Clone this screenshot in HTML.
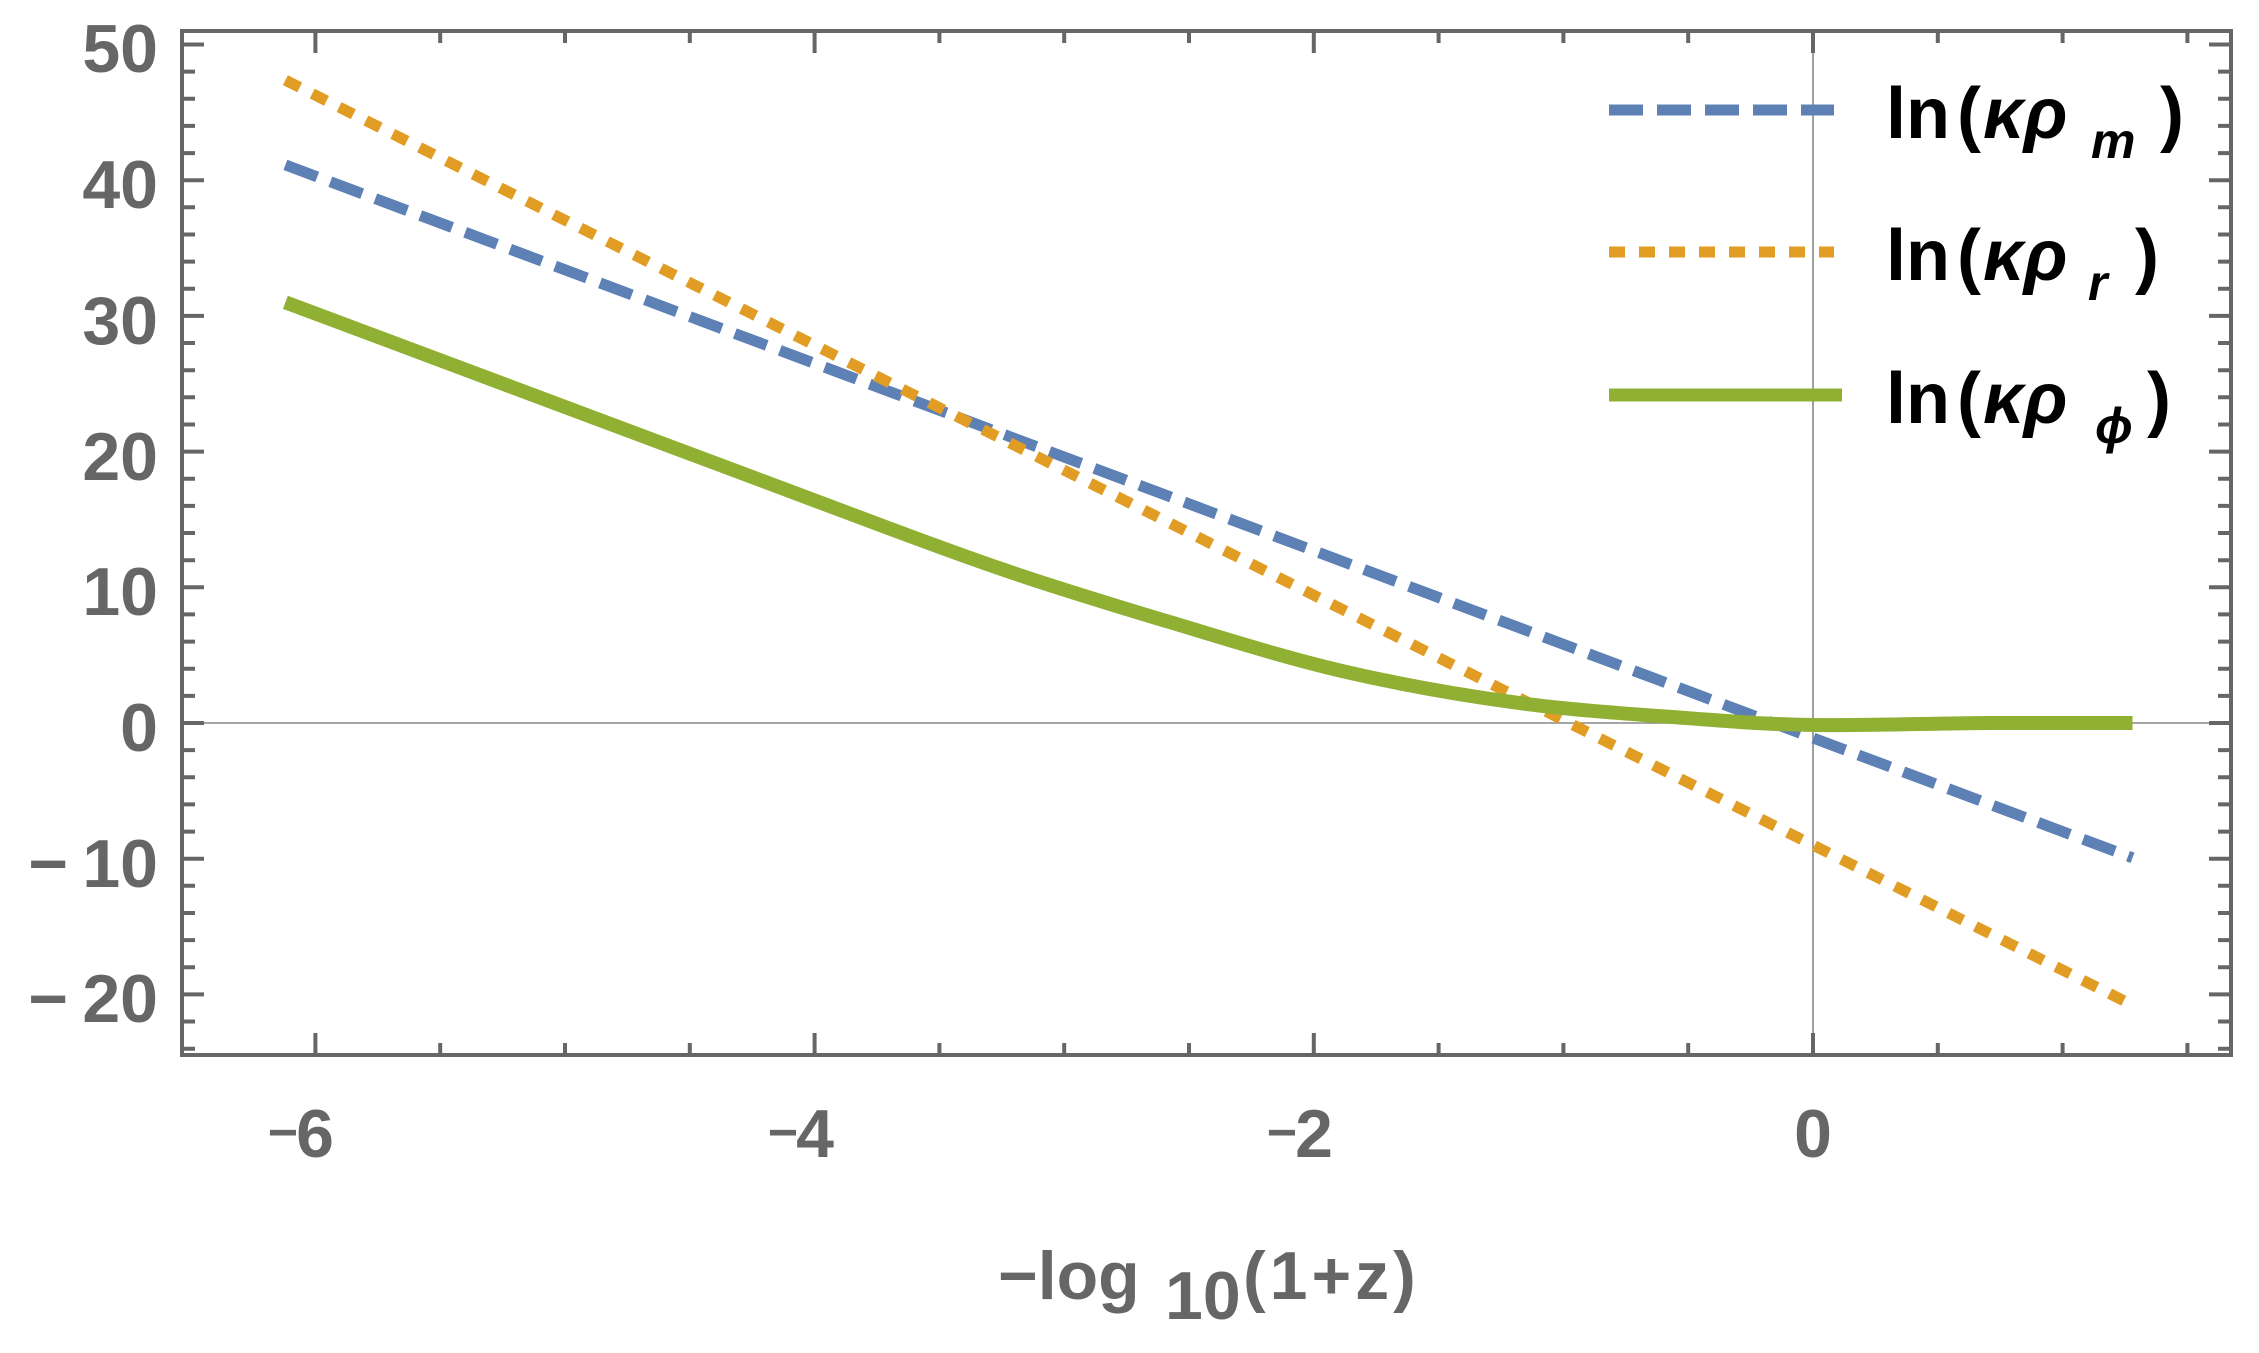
<!DOCTYPE html>
<html><head><meta charset="utf-8"><style>
html,body{margin:0;padding:0;background:#fff;}
svg{display:block;}
.t{font-family:"Liberation Sans",sans-serif;font-weight:bold;fill:#666;font-size:68px;}
.l{font-family:"Liberation Sans",sans-serif;font-weight:bold;fill:#000;font-size:72px;}
</style></head><body>
<svg width="2259" height="1353" viewBox="0 0 2259 1353" xmlns="http://www.w3.org/2000/svg">
<defs><clipPath id="c"><rect x="182" y="31" width="2049" height="1024"/></clipPath></defs>
<line x1="182" y1="723" x2="2231" y2="723" stroke="#888" stroke-width="1.6"/>
<line x1="1813" y1="31" x2="1813" y2="1055" stroke="#888" stroke-width="1.6"/>
<g stroke="#666" stroke-width="4" fill="none">
<path d="M182 44.5h22M182 71.6h13M182 98.8h13M182 125.9h13M182 153.1h13M182 180.2h22M182 207.3h13M182 234.5h13M182 261.6h13M182 288.8h13M182 315.9h22M182 343h13M182 370.2h13M182 397.3h13M182 424.5h13M182 451.6h22M182 478.7h13M182 505.9h13M182 533h13M182 560.2h13M182 587.3h22M182 614.4h13M182 641.6h13M182 668.7h13M182 695.9h13M182 723h22M182 750.1h13M182 777.3h13M182 804.4h13M182 831.6h13M182 858.7h22M182 885.8h13M182 913h13M182 940.1h13M182 967.3h13M182 994.4h22M182 1021.5h13M182 1048.7h13"/>
<path d="M2231 44.5h-22M2231 71.6h-13M2231 98.8h-13M2231 125.9h-13M2231 153.1h-13M2231 180.2h-22M2231 207.3h-13M2231 234.5h-13M2231 261.6h-13M2231 288.8h-13M2231 315.9h-22M2231 343h-13M2231 370.2h-13M2231 397.3h-13M2231 424.5h-13M2231 451.6h-22M2231 478.7h-13M2231 505.9h-13M2231 533h-13M2231 560.2h-13M2231 587.3h-22M2231 614.4h-13M2231 641.6h-13M2231 668.7h-13M2231 695.9h-13M2231 723h-22M2231 750.1h-13M2231 777.3h-13M2231 804.4h-13M2231 831.6h-13M2231 858.7h-22M2231 885.8h-13M2231 913h-13M2231 940.1h-13M2231 967.3h-13M2231 994.4h-22M2231 1021.5h-13M2231 1048.7h-13"/>
<path d="M315.4 1055v-22M440.2 1055v-12M565 1055v-12M689.8 1055v-12M814.6 1055v-22M939.4 1055v-12M1064.2 1055v-12M1189 1055v-12M1313.8 1055v-22M1438.6 1055v-12M1563.4 1055v-12M1688.2 1055v-12M1813 1055v-22M1937.8 1055v-12M2062.6 1055v-12M2187.4 1055v-12"/>
<path d="M315.4 31v22M440.2 31v12M565 31v12M689.8 31v12M814.6 31v22M939.4 31v12M1064.2 31v12M1189 31v12M1313.8 31v22M1438.6 31v12M1563.4 31v12M1688.2 31v12M1813 31v22M1937.8 31v12M2062.6 31v12M2187.4 31v12"/>
<rect x="182" y="31" width="2049" height="1024"/>
</g>
<g clip-path="url(#c)" fill="none">
<line x1="285.4" y1="164.9" x2="2132.5" y2="857.8" stroke="#5e81b5" stroke-width="11" stroke-dasharray="34,14"/>
<line x1="285.4" y1="80.2" x2="2132.5" y2="1005.1" stroke="#e19c24" stroke-width="11" stroke-dasharray="16,14"/>
<path stroke="#8fb032" stroke-width="14" stroke-linejoin="round" d="M285.4 302.3L814.6 500.4C876.2 523.5 939.8 547.9 999.3 568.3C1058.8 588.7 1114.1 605.4 1171.5 622.6C1228.9 639.8 1286.4 658.1 1343.8 671.4C1401.2 684.7 1458.6 694.8 1516 702.6C1573.4 710.4 1638.7 714.5 1688.2 718.2C1737.7 721.9 1763.1 724.2 1813 725C1862.9 725.8 1934.4 723.3 1987.7 723L2132.5 723"/>
</g>
<g class="t" text-anchor="end">
<text x="158" y="72">50</text>
<text x="158" y="208">40</text>
<text x="158" y="344">30</text>
<text x="158" y="480">20</text>
<text x="158" y="615">10</text>
<text x="158" y="751">0</text>
<text x="158" y="887">10</text><text x="68" y="887">−</text>
<text x="158" y="1022">20</text><text x="68" y="1022">−</text>
</g>
<g class="t" text-anchor="middle">
<text x="315" y="1157">6</text><text x="283" y="1150" font-size="52">−</text>
<text x="815" y="1157">4</text><text x="783" y="1150" font-size="52">−</text>
<text x="1314" y="1157">2</text><text x="1282" y="1150" font-size="52">−</text>
<text x="1813" y="1157">0</text>
</g>
<text class="t" x="998" y="1299">−log</text>
<text class="t" x="1165" y="1319" font-size="50">10</text>
<text class="t" x="1243" y="1299" letter-spacing="4">(1+z)</text>
<line x1="1609" y1="110" x2="1834" y2="110" stroke="#5e81b5" stroke-width="11" stroke-dasharray="34,14"/>
<line x1="1609" y1="252" x2="1834" y2="252" stroke="#e19c24" stroke-width="11" stroke-dasharray="16,14"/>
<line x1="1609" y1="395" x2="1842" y2="395" stroke="#8fb032" stroke-width="13"/>
<g class="l">
<text x="1886" y="138">ln</text><text x="1957" y="138">(</text><text x="1983" y="138" font-style="italic">κρ</text><text x="2091" y="158" font-size="50" font-style="italic">m</text><text x="2160" y="138">)</text>
<text x="1886" y="280">ln</text><text x="1957" y="280">(</text><text x="1983" y="280" font-style="italic">κρ</text><text x="2088" y="300" font-size="50" font-style="italic">r</text><text x="2135" y="280">)</text>
<text x="1886" y="423">ln</text><text x="1957" y="423">(</text><text x="1983" y="423" font-style="italic">κρ</text><text x="2095" y="443" font-size="50" font-style="italic">ϕ</text><text x="2147" y="423">)</text>
</g>
</svg>
</body></html>
